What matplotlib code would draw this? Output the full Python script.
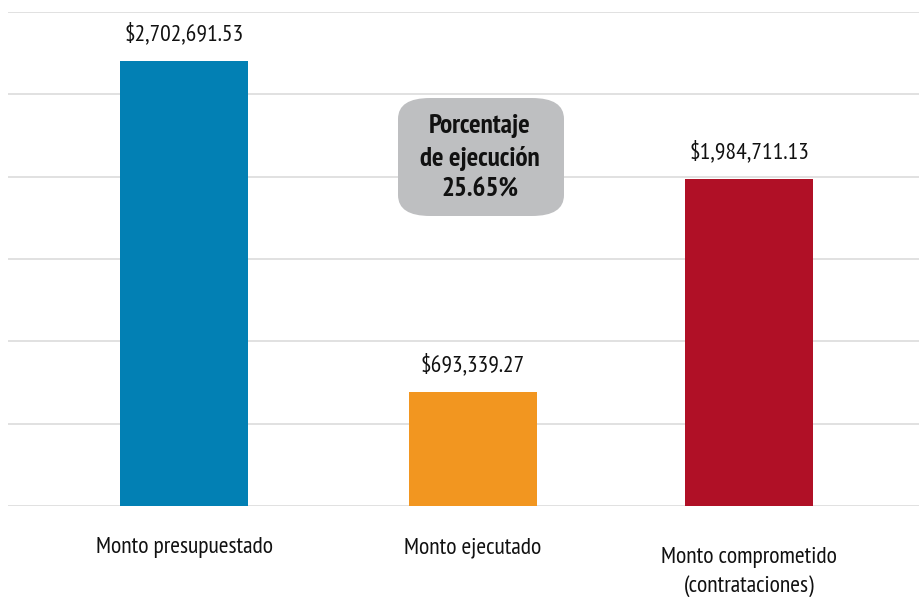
import matplotlib.pyplot as plt
import numpy as np
from matplotlib.patches import FancyBboxPatch

categories = ["Monto presupuestado", "Monto ejecutado", "Monto comprometido\n(contrataciones)"]
values = [2702691.53, 693339.27, 1984711.13]
colors = ["#0280B4", "#F29620", "#B01026"]
percent_label = "Porcentaje\nde ejecución\n25.65%"

plt.rcParams['font.family'] = ['PT Sans Narrow', 'DejaVu Sans']

fig = plt.figure(figsize=(9.2, 5.97), dpi=100)
ax = fig.add_axes([8 / 920, 91 / 597, 912 / 920, 494 / 597])

# middle bar sits a touch right of centre in the original
x = np.array([0, 1.022, 2])
ax.bar(x, values, width=0.453, color=colors, zorder=3)

# value labels above each bar
for xi, v in zip(x, values):
    ax.text(xi, v + 95000, f"${v:,.2f}", ha="center", va="bottom", fontsize=17, color="#111111")

ax.set_ylim(0, 3000000)
ax.set_xlim(-0.623, 2.605)
ax.set_yticks(np.arange(0, 3000001, 500000))
ax.yaxis.grid(True, color="#DCDCDC", linewidth=1.2, zorder=0)
ax.tick_params(axis="y", left=False, labelleft=False)
ax.tick_params(axis="x", bottom=False, labelbottom=False)
for s in ax.spines.values():
    s.set_visible(False)

# category labels (the two-line one sits lower)
label_y = [548, 548, 572]
for xi, lab, ly in zip(x, categories, label_y):
    ax.annotate(lab, xy=(xi, 0), xycoords=("data", "axes fraction"),
                xytext=(0, -(ly - 506) * 0.72), textcoords="offset points",
                ha="center", va="center", fontsize=17, color="#111111", linespacing=1.4)

box = FancyBboxPatch((398 / 920, 1 - 216 / 597), 166 / 920, 118 / 597,
                     boxstyle="round,pad=0,rounding_size=0.035", transform=fig.transFigure,
                     facecolor="#BEBFC1", edgecolor="none", zorder=5)
fig.patches.append(box)
fig.text(480 / 920, 1 - 158 / 597, percent_label, ha="center", va="center", fontsize=19.5,
         fontweight="bold", color="#111111", linespacing=1.37, zorder=6)

fig.savefig("out.png", dpi=100)
